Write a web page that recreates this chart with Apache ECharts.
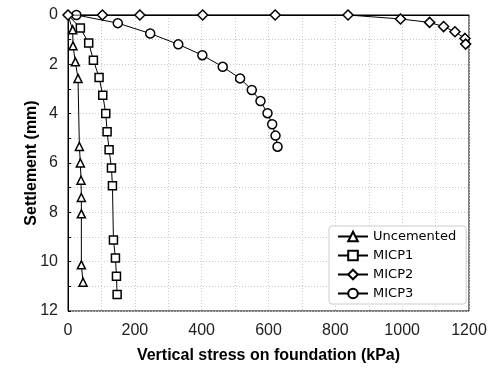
<!DOCTYPE html>
<html><head><meta charset="utf-8">
<script src="https://cdn.jsdelivr.net/npm/echarts@6/dist/echarts.min.js"></script>
<style>html,body{margin:0;padding:0;background:#fff}#c{width:491px;height:369px}</style>
</head><body><div id="c"></div>
<script>
const seriesNames = ['Uncemented', 'MICP1', 'MICP2', 'MICP3'];
const uncemented = [[0,0],[14,0.6],[15,1.25],[22,1.9],[30,2.57],[34,5.33],[37,6.0],[39,6.7],[40,7.4],[40,8.06],[40,10.13],[45,10.83]];
const micp1 = [[0,0],[37,0.53],[62,1.14],[76,1.83],[93,2.53],[104,3.25],[113,3.99],[117,4.73],[123,5.46],[130,6.2],[133,6.92],[136,9.12],[142,9.85],[145,10.59],[147,11.33]];
const micp2 = [[0,0],[103,0],[215,0],[403,0],[620,0],[838,0],[995,0.16],[1082,0.3],[1124,0.47],[1158,0.68],[1188,0.95],[1190,1.18]];
const micp3 = [[0,0],[25,0],[149,0.33],[246,0.75],[330,1.19],[402,1.63],[463,2.1],[515,2.57],[550,3.04],[576,3.49],[597,3.98],[611,4.43],[621,4.89],[627,5.34]];
const xTitle = 'Vertical stress on foundation (kPa)';
const yTitle = 'Settlement (mm)';

function mk(name, data, symbol, size, z) {
  return {
    name, type: 'line', data: data.map((p, i) => (i === 0 && symbol !== 'diamond') ? {value: p, symbol: 'none'} : p),
    symbol, symbolSize: size, showAllSymbol: true, z,
    lineStyle: {color: '#000', width: 1},
    itemStyle: {color: '#fff', borderColor: '#000', borderWidth: 1.5},
    emphasis: {disabled: true}, animation: false
  };
}
const chart = echarts.init(document.getElementById('c'));
const splitStyle = {color: '#c8c8c8', type: [1, 2], width: 1};
chart.setOption({
  animation: false,
  grid: {left: 68, right: 22, top: 15, bottom: 55, show: true, borderColor: '#000', borderWidth: 1},
  legend: {
    orient: 'vertical', left: 329, top: 226, itemWidth: 30, itemHeight: 12, itemGap: 6,
    padding: [4, 10, 4, 8], borderColor: '#ccc', borderWidth: 1, borderRadius: 3, backgroundColor: '#fff',
    textStyle: {fontFamily: 'DejaVu Sans', fontSize: 13, color: '#000'},
    data: seriesNames
  },
  xAxis: {
    type: 'value', min: 0, max: 1200, interval: 200,
    name: xTitle, nameLocation: 'middle', nameGap: 37,
    nameTextStyle: {fontFamily: 'Liberation Sans', fontWeight: 'bold', fontSize: 16, color: '#000'},
    axisLine: {lineStyle: {color: '#000'}},
    axisTick: {show: false},
    axisLabel: {fontFamily: 'Liberation Sans', fontSize: 16, color: '#222', margin: 12, formatter: v => String(v)},
    splitLine: {show: true, lineStyle: splitStyle},
    minorTick: {show: false, splitNumber: 2},
    minorSplitLine: {show: true, lineStyle: splitStyle}
  },
  yAxis: {
    type: 'value', inverse: true, min: 0, max: 12, interval: 2,
    name: yTitle, nameLocation: 'middle', nameGap: 28, nameMoveOverlap: false,
    nameTextStyle: {fontFamily: 'Liberation Sans', fontWeight: 'bold', fontSize: 16, color: '#000'},
    axisLine: {lineStyle: {color: '#000'}},
    axisTick: {show: true, inside: true, length: 3, lineStyle: {color: '#000'}},
    axisLabel: {fontFamily: 'Liberation Sans', fontSize: 16, color: '#222', margin: 10},
    splitLine: {show: true, lineStyle: splitStyle},
    minorTick: {show: true, splitNumber: 2, length: 3, lineStyle: {color: '#000'}},
    minorSplitLine: {show: true, lineStyle: splitStyle}
  },
  series: [
    mk('Uncemented', uncemented, 'triangle', 8, 3),
    mk('MICP1', micp1, 'rect', 8, 4),
    mk('MICP3', micp3, 'circle', 9, 5),
    mk('MICP2', micp2, 'diamond', 10, 6)
  ]
});
</script></body></html>
